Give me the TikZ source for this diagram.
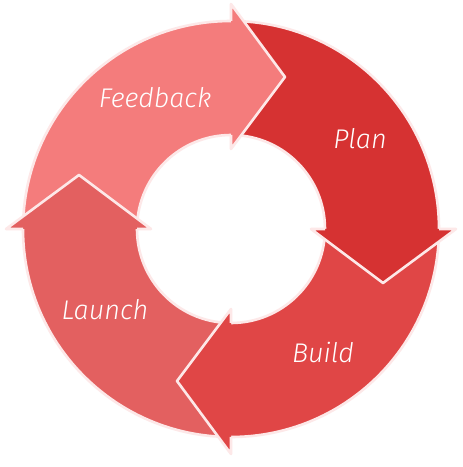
\documentclass[tikz,border=0pt]{standalone}
\usepackage{fontspec}
\newfontfamily\lblfont{Fira Sans Light Italic}
\usetikzlibrary{calc}

\definecolor{feedbackcol}{RGB}{244,124,124}
\definecolor{plancol}{RGB}{214,50,50}
\definecolor{buildcol}{RGB}{224,70,70}
\definecolor{launchcol}{RGB}{227,96,96}
\definecolor{rimcol}{RGB}{253,232,232}

\tikzset{
  rim/.style={draw=rimcol, line width=2.6pt, line join=round},
  lbl/.style={text=white, font=\lblfont\fontsize{27}{30}\selectfont, inner sep=0pt},
}

% ring geometry: outer radius, inner radius, head middle radius
\def\Ro{208}
\def\Ri{94}

% curved body of one step, from angle #1 clockwise to angle #2
\newcommand\ringbody[3]{%
  \fill[#3] ($(C)+(#1:\Ro)$) arc[start angle=#1, end angle=#2, radius=\Ro]
     -- ($(C)+(#2:\Ri)$) arc[start angle=#2, end angle=#1, radius=\Ri] -- cycle;
  \draw[rim] ($(C)+(#2:\Ro)$) arc[start angle=#2, end angle=#1, radius=\Ro]
     -- ($(C)+(#1:\Ri)$) arc[start angle=#1, end angle=#2, radius=\Ri];
}
% arrow head sitting at angle #1, pointing clockwise
\newcommand\ringhead[2]{%
  \fill[#2] ($(C)+(#1:80)$) -- ($(C)+(#1:225)$) -- ($(C)+(#1:152)+(#1-90:54)$) -- cycle;
  \draw[rim] ($(C)+(#1:\Ri)$) -- ($(C)+(#1:80)$) -- ($(C)+(#1:152)+(#1-90:54)$)
     -- ($(C)+(#1:225)$) -- ($(C)+(#1:\Ro)$);
}

\begin{document}
\begin{tikzpicture}[x=1pt,y=1pt]
  \useasboundingbox (0,0) rectangle (463,467);
  \fill[white] (0,0) rectangle (463,467);
  \coordinate (C) at (231,238);

  % bodies first, heads on top
  \ringbody{178}{90}{feedbackcol}
  \ringbody{88}{0}{plancol}
  \ringbody{-2}{-90}{buildcol}
  \ringbody{-92}{-180}{launchcol}

  \ringhead{90}{feedbackcol}
  \ringhead{0}{plancol}
  \ringhead{-90}{buildcol}
  \ringhead{-180}{launchcol}

  \node[lbl] (feedback) at (155,369) {Feedback};
  \node[lbl] (plan) at (360,328) {Plan};
  \node[lbl] (build) at (323,115) {Build};
  \node[lbl] (launch) at (105,157) {Launch};
\end{tikzpicture}
\end{document}
